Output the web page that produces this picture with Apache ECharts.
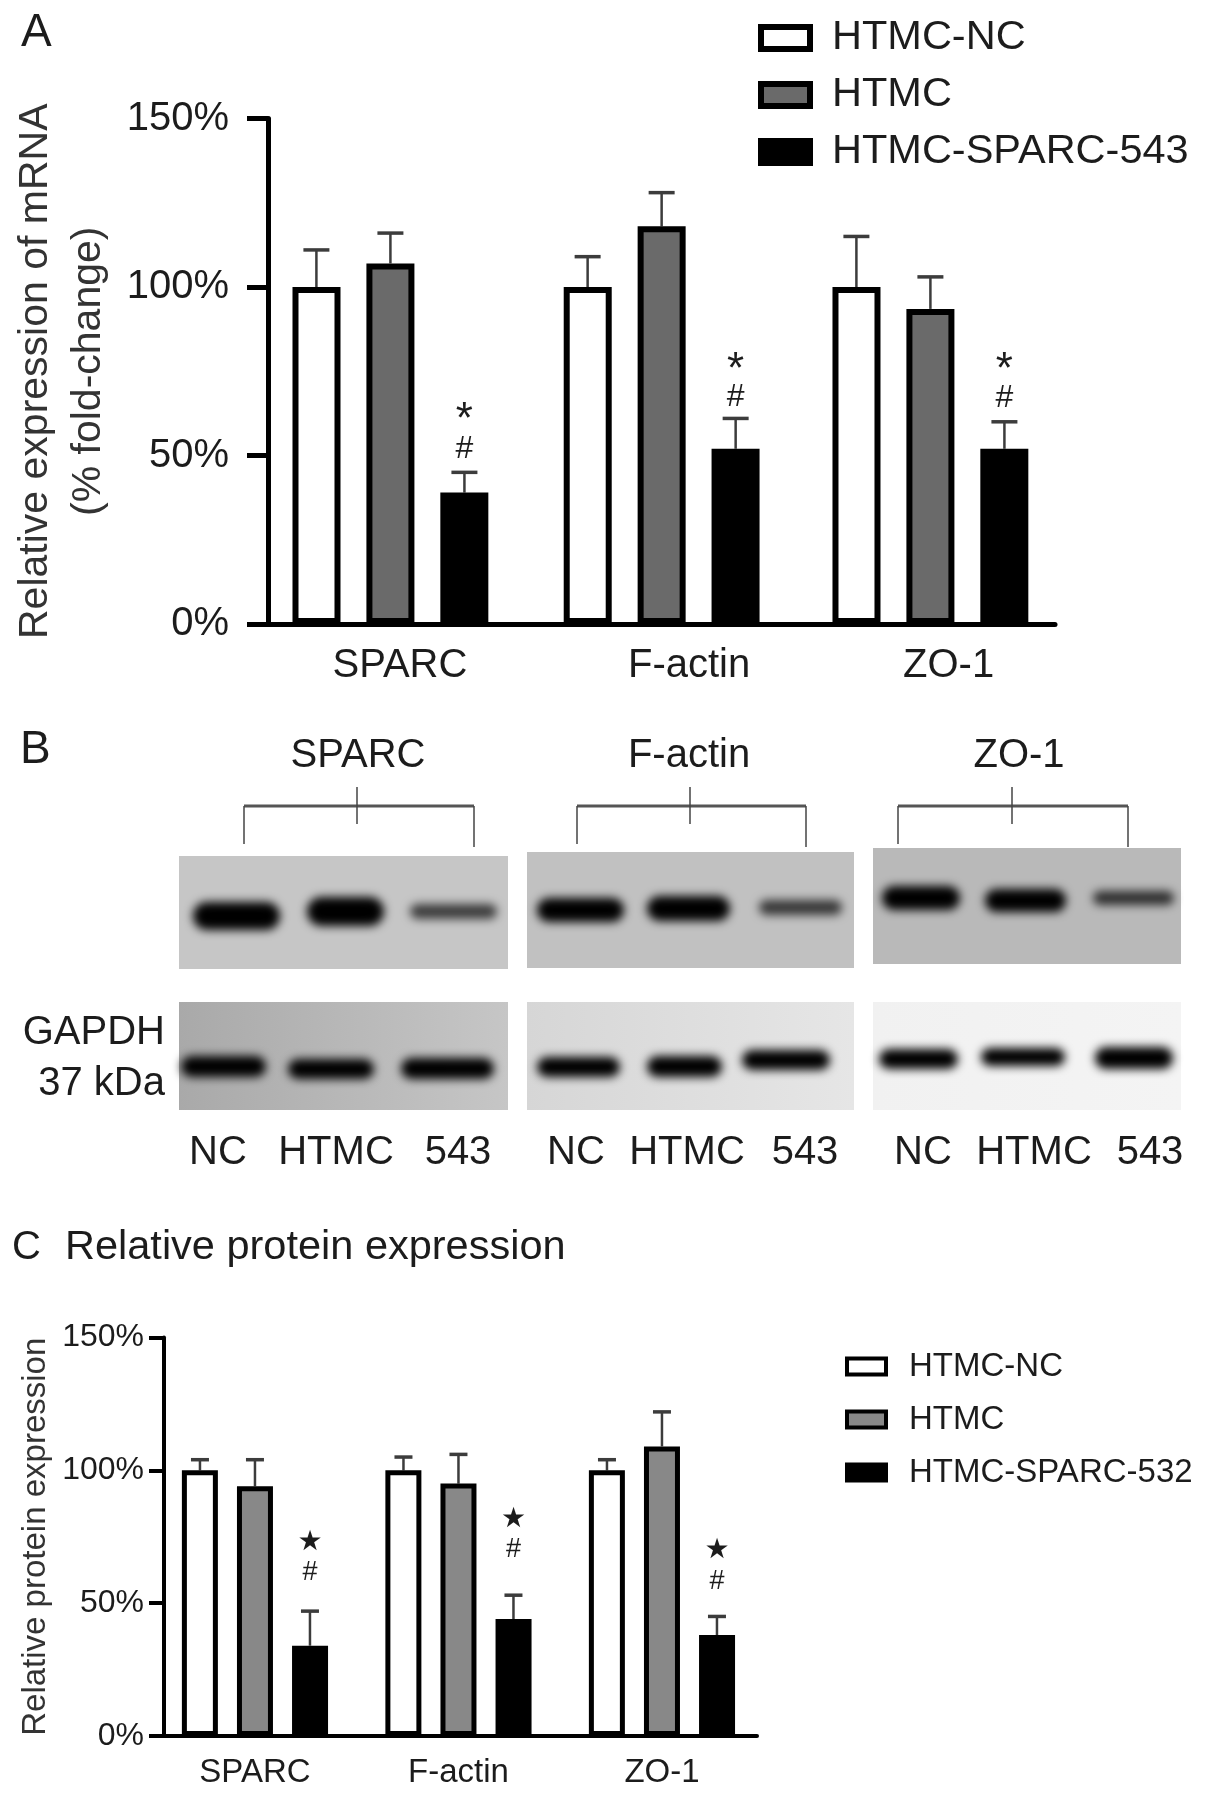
<!DOCTYPE html>
<html>
<head>
<meta charset="utf-8">
<title>SPARC expression</title>
<script src="https://cdn.jsdelivr.net/npm/echarts@6/dist/echarts.min.js"></script>
<style>
html, body { margin: 0; padding: 0; background: #fff; }
#main { width: 1205px; height: 1795px; }
</style>
</head>
<body>
<div id="main"></div>
<script>
// panel A, mRNA
var categories = ['SPARC', 'F-actin', 'ZO-1'];
var mrnaAt = [0.998, 1.995, 2.983];
var mrnaNc = [100, 100, 100];
var mrnaHtmc = [107, 118, 93.5];
var mrna543 = [39, 52, 52];
var mrnaNcErr = [111, 109, 115];
var mrnaHtmcErr = [116, 128, 103];
var mrna543Err = [45, 61, 60];
var mrnaLabelAt = [1.033, 2.096, 3.05];
var mrnaStars = [60.3, 75, 75];
var mrnaHash = [52, 67.4, 67];

// panel C, protein
var protAt = [1, 2, 3];
var protNc = [100, 100, 100];
var protHtmc = [94, 95, 109];
var prot532 = [34, 44, 38];
var protNcErr = [104, 105, 104];
var protHtmcErr = [104, 106, 122];
var prot532Err = [47, 53, 45];
var protStars = [72.8, 81.3, 69.6];
var protHash = [61.5, 70, 58.3];

var gelTop = [[179, 856, 508, 969], [527, 852, 854, 968], [873, 848, 1181, 964]];
var gelTopColor = ['#c6c6c6', '#c1c1c1', '#b9b9b9'];
var gelBottom = [[179, 1002, 508, 1110], [527, 1002, 854, 1110], [873, 1002, 1181, 1110]];
var gelBottomColor = [['#a9a9a9', '#c6c6c6'], ['#d6d6d6', '#e6e6e6'], ['#f1f1f1', '#f4f4f4']];
// x0, y0, x1, y1, grey level
var bands = [
  [193, 902, 280, 930, 0], [307, 897, 384, 926, 0], [410, 904, 497, 919, 60],
  [537, 898, 624, 922, 0], [647, 896, 730, 921, 0], [759, 900, 842, 915, 55],
  [882, 886, 960, 910, 0], [985, 889, 1066, 912, 0], [1093, 891, 1174, 905, 45],
  [181, 1056, 266, 1077, 0], [288, 1059, 374, 1079, 0], [401, 1058, 494, 1079, 0],
  [537, 1057, 620, 1077, 0], [647, 1056, 722, 1077, 0], [742, 1050, 830, 1070, 0],
  [879, 1049, 958, 1069, 0], [981, 1048, 1065, 1066, 0], [1095, 1047, 1173, 1069, 0]
];
var brackets = [[244, 474, 357, 844, 847], [577, 806, 690, 844, 847], [898, 1128, 1012, 844, 847]];
var sectionLabels = ['SPARC', 'F-actin', 'ZO-1'];
var sectionAt = [358, 689, 1019];
var laneLabels = ['NC', 'HTMC', '543', 'NC', 'HTMC', '543', 'NC', 'HTMC', '543'];
var laneAt = [218, 336, 458, 576, 687, 805, 923, 1034, 1150];

var font = 'Liberation Sans';
var ink = '#1c1c1c';

function bars(name, cats, vals, fill, ax, width, gap) {
  return {
    type: 'bar', name: name, xAxisIndex: ax, yAxisIndex: ax,
    barWidth: width, barGap: gap,
    itemStyle: { color: fill, borderColor: '#000', borderWidth: ax === 0 ? 6 : 5 },
    data: vals.map(function (v, i) { return [cats[i], v]; })
  };
}

// upper whisker only, x moved by the group slot in axis units
function whiskers(cats, vals, errs, shift, ax, cap, lw) {
  return {
    type: 'custom', xAxisIndex: ax, yAxisIndex: ax, silent: true, z: 1,
    data: vals.map(function (v, i) { return [cats[i] + shift, v, errs[i]]; }),
    renderItem: function (params, api) {
      var low = api.coord([api.value(0), api.value(1)]);
      var top = api.coord([api.value(0), api.value(2)]);
      var st = { stroke: '#3c3c3c', lineWidth: lw };
      return {
        type: 'group',
        children: [
          { type: 'line', shape: { x1: low[0], y1: low[1], x2: top[0], y2: top[1] }, style: st },
          { type: 'line', shape: { x1: top[0] - cap / 2, y1: top[1], x2: top[0] + cap / 2, y2: top[1] }, style: { stroke: '#3c3c3c', lineWidth: lw + 1 } }
        ]
      };
    }
  };
}

function glyphs(glyph, cats, heights, shift, ax, size, family) {
  return {
    type: 'custom', xAxisIndex: ax, yAxisIndex: ax, silent: true, z: 5,
    data: heights.map(function (h, i) { return [cats[i] + shift, h]; }),
    renderItem: function (params, api) {
      var p = api.coord([api.value(0), api.value(1)]);
      return {
        type: 'text',
        style: { text: glyph, x: p[0], y: p[1], fill: ink, fontSize: size, fontFamily: family || font, align: 'center', verticalAlign: 'middle' }
      };
    }
  };
}

var slotA = 74 / 272;
var slotC = 55 / 203.5;

function yAxis(gridIndex, size, tick, width, name, gap, nameSize, margin, lineHeight) {
  return {
    type: 'value', gridIndex: gridIndex, min: 0, max: 150, interval: 50,
    name: name, nameLocation: 'middle', nameGap: gap,
    nameTextStyle: { fontFamily: font, fontSize: nameSize, color: '#333', lineHeight: lineHeight },
    axisLine: { show: true, onZero: false, lineStyle: { color: '#000', width: width } },
    axisTick: { show: true, length: tick, lineStyle: { color: '#000', width: width } },
    axisLabel: { fontFamily: font, fontSize: size, color: ink, margin: margin, formatter: '{value}%' },
    splitLine: { show: false }
  };
}

function xAxis(gridIndex, min, max, labelAt, size, width, margin) {
  return {
    type: 'value', gridIndex: gridIndex, min: min, max: max,
    axisLine: { show: true, onZero: false, lineStyle: { color: '#000', width: width } },
    axisTick: { show: false },
    splitLine: { show: false },
    axisLabel: {
      customValues: labelAt, fontFamily: font, fontSize: size, color: ink, margin: margin,
      formatter: function (v) { return categories[labelAt.indexOf(v)]; }
    }
  };
}

function legendBlock(names, fills, top, left, w, h, gap, size, bw, textGap) {
  return {
    orient: 'vertical', left: left, top: top, itemWidth: w, itemHeight: h, itemGap: gap,
    icon: 'rect', selectedMode: false,
    textStyle: { fontFamily: font, fontSize: size, color: ink, padding: [0, 0, 0, textGap] },
    data: names.map(function (n, i) {
      return { name: n, itemStyle: { color: fills[i], borderColor: '#000', borderWidth: bw } };
    })
  };
}

var blotGel = {
  type: 'custom', xAxisIndex: 2, yAxisIndex: 2, silent: true,
  data: gelTop.concat(gelBottom),
  renderItem: function (params, api) {
    var a = api.coord([api.value(0), api.value(1)]);
    var b = api.coord([api.value(2), api.value(3)]);
    var i = params.dataIndex;
    var fill = i < 3 ? gelTopColor[i] : {
      type: 'linear', x: 0, y: 0, x2: 1, y2: 0,
      colorStops: [{ offset: 0, color: gelBottomColor[i - 3][0] }, { offset: 1, color: gelBottomColor[i - 3][1] }]
    };
    return { type: 'rect', shape: { x: a[0], y: a[1], width: b[0] - a[0], height: b[1] - a[1] }, style: { fill: fill } };
  }
};

// only the shadow is painted, the shape itself sits off the page, so band edges stay soft
var bandOffset = 3000;
var blotBands = {
  type: 'custom', xAxisIndex: 2, yAxisIndex: 2, silent: true, z: 3, clip: false,
  data: bands,
  renderItem: function (params, api) {
    var a = api.coord([api.value(0), api.value(1)]);
    var b = api.coord([api.value(2), api.value(3)]);
    var g = api.value(4);
    var c = 'rgb(' + g + ',' + g + ',' + g + ')';
    return {
      type: 'rect',
      shape: { x: a[0] - bandOffset, y: a[1], width: b[0] - a[0], height: b[1] - a[1], r: (b[1] - a[1]) / 2 },
      style: { fill: c, shadowBlur: 10, shadowColor: c, shadowOffsetX: bandOffset }
    };
  }
};

var blotBrackets = {
  type: 'custom', xAxisIndex: 2, yAxisIndex: 2, silent: true, z: 3,
  data: brackets,
  renderItem: function (params, api) {
    var yMid = 806, yTick0 = 787, yTick1 = 824;
    var l = api.coord([api.value(0), yMid]);
    var r = api.coord([api.value(1), yMid]);
    var t0 = api.coord([api.value(2), yTick0]);
    var t1 = api.coord([api.value(2), yTick1]);
    var dl = api.coord([api.value(0), api.value(3)]);
    var dr = api.coord([api.value(1), api.value(4)]);
    var thin = { stroke: '#444', lineWidth: 1.5 };
    return {
      type: 'group',
      children: [
        { type: 'line', shape: { x1: l[0], y1: l[1], x2: r[0], y2: r[1] }, style: { stroke: '#555', lineWidth: 3 } },
        { type: 'line', shape: { x1: t0[0], y1: t0[1], x2: t1[0], y2: t1[1] }, style: thin },
        { type: 'line', shape: { x1: l[0], y1: l[1], x2: dl[0], y2: dl[1] }, style: thin },
        { type: 'line', shape: { x1: r[0], y1: r[1], x2: dr[0], y2: dr[1] }, style: thin }
      ]
    };
  }
};

function blotText(labels, at, y) {
  return {
    type: 'custom', xAxisIndex: 2, yAxisIndex: 2, silent: true, z: 4,
    data: at.map(function (x) { return [x, y]; }),
    renderItem: function (params, api) {
      var p = api.coord([api.value(0), api.value(1)]);
      return {
        type: 'text',
        style: { text: labels[params.dataIndex], x: p[0], y: p[1], fill: ink, fontSize: 40, fontFamily: font, align: 'center', verticalAlign: 'middle' }
      };
    }
  };
}

function pageText(text, x, y, size, align) {
  return {
    type: 'text', x: x, y: y,
    style: { text: text, fill: ink, fontFamily: font, fontSize: size, align: align || 'left', verticalAlign: 'middle' }
  };
}

var myChart = echarts.init(document.getElementById('main'), null, { renderer: 'canvas' });

var option = {
  backgroundColor: '#fff',
  animation: false,
  grid: [
    { left: 268, top: 118.5, width: 787, height: 505.5, outerBoundsMode: 'none' },
    { left: 164, top: 1337.5, width: 593, height: 398.5, outerBoundsMode: 'none' },
    { left: 0, top: 720, width: 1205, height: 480, outerBoundsMode: 'none' }
  ],
  xAxis: [
    xAxis(0, 0.548, 3.441, mrnaLabelAt, 40, 5, 22),
    xAxis(1, 0.553, 3.467, protAt, 33, 4, 20),
    { type: 'value', gridIndex: 2, min: 0, max: 1205, show: false }
  ],
  yAxis: [
    yAxis(0, 40, 21, 5, 'Relative expression of mRNA\n(% fold-change)', 153, 41, 39, 53),
    yAxis(1, 32, 15, 4, 'Relative protein expression', 106, 33, 20, 45),
    { type: 'value', gridIndex: 2, min: 720, max: 1200, inverse: true, show: false }
  ],
  legend: [
    legendBlock(['HTMC-NC', 'HTMC', 'HTMC-SPARC-543'], ['#fff', '#6a6a6a', '#000'], 12, 753, 49, 22, 15, 41.5, 6, 17),
    legendBlock(['HTMC-NC', 'HTMC', 'HTMC-SPARC-532'], ['#fff', '#888', '#000'], 1345, 840, 39, 16, 20, 33, 4, 18)
  ],
  graphic: [
    pageText('A', 21, 33, 46),
    pageText('B', 20, 750, 46),
    pageText('C', 12, 1248, 40),
    pageText('Relative protein expression', 65, 1248, 41.5),
    pageText('GAPDH', 165, 1033, 40, 'right'),
    pageText('37 kDa', 165, 1084, 40, 'right')
  ],
  series: [
    blotGel, blotBands, blotBrackets,
    blotText(sectionLabels, sectionAt, 756),
    blotText(laneLabels, laneAt, 1153),

    bars('HTMC-NC', mrnaAt, mrnaNc, '#fff', 0, 48, '54%'),
    bars('HTMC', mrnaAt, mrnaHtmc, '#6a6a6a', 0, 48, '54%'),
    bars('HTMC-SPARC-543', mrnaAt, mrna543, '#000', 0, 48, '54%'),
    whiskers(mrnaAt, mrnaNc, mrnaNcErr, -slotA, 0, 26, 2.5),
    whiskers(mrnaAt, mrnaHtmc, mrnaHtmcErr, 0, 0, 26, 2.5),
    whiskers(mrnaAt, mrna543, mrna543Err, slotA, 0, 26, 2.5),
    glyphs('*', mrnaAt, mrnaStars, slotA, 0, 44),
    glyphs('#', mrnaAt, mrnaHash, slotA, 0, 32),

    bars('HTMC-NC', protAt, protNc, '#fff', 1, 36, '53%'),
    bars('HTMC', protAt, protHtmc, '#888', 1, 36, '53%'),
    bars('HTMC-SPARC-532', protAt, prot532, '#000', 1, 36, '53%'),
    whiskers(protAt, protNc, protNcErr, -slotC, 1, 18, 2.5),
    whiskers(protAt, protHtmc, protHtmcErr, 0, 1, 18, 2.5),
    whiskers(protAt, prot532, prot532Err, slotC, 1, 18, 2.5),
    glyphs('\u2605', protAt, protStars, slotC, 1, 28, 'DejaVu Sans'),
    glyphs('#', protAt, protHash, slotC, 1, 27)
  ]
};

myChart.setOption(option);
</script>
</body>
</html>
